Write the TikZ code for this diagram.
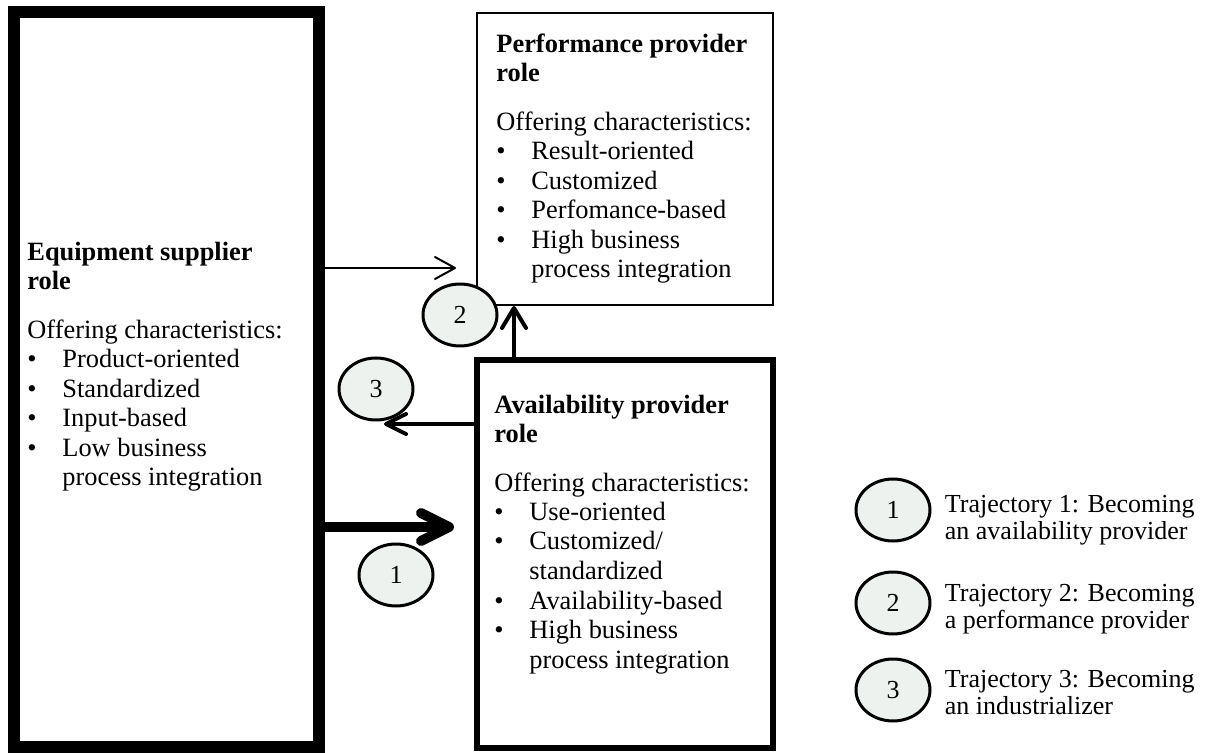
\documentclass[tikz,border=0pt]{standalone}
\usepackage{fontspec}
\setmainfont{Liberation Serif}
\usepackage{xcolor}
\usepackage{tikz}
\usetikzlibrary{shapes.geometric,arrows.meta,positioning,calc}
\definecolor{trajfill}{RGB}{237,242,239}
\newcommand{\bul}{\makebox[17.5pt][l]{\textbullet}}
\newcommand{\cont}{\hspace*{17.5pt}}
\tikzset{
  rolebox/.style={draw, rectangle, inner sep=0pt},
  roletext/.style={align=left, inner sep=0pt, anchor=base west, font=\fontsize{13.2pt}{14.75pt}\selectfont},
  trajmark/.style={ellipse, draw, line width=1.5pt, fill=trajfill, minimum width=37pt, minimum height=31pt, inner sep=0pt, font=\fontsize{13pt}{13.5pt}\selectfont},
  keytext/.style={align=left, inner sep=0pt, anchor=base west, font=\fontsize{13pt}{13.5pt}\selectfont},
}

\begin{document}
\begin{tikzpicture}[x=0.5pt,y=-0.5pt]
    \useasboundingbox (0,0) rectangle (1205,753);
    \node[rolebox, line width=6pt, minimum width=152.5pt, minimum height=367.5pt] (equip) at (166.5,379.5) {};
    \node[rolebox, line width=1pt, minimum width=148pt, minimum height=146pt] (perf) at (625,159) {};
    \node[rolebox, line width=3pt, minimum width=148pt, minimum height=194pt] (avail) at (625,554) {};

    \node[roletext] (equiptext) at ([shift={(19,480)}]equip.north west)
        {\textbf{Equipment supplier}\\\textbf{role}\\[9.5pt]Offering characteristics:\\
         \bul Product-oriented\\\bul Standardized\\\bul Input-based\\\bul Low business\\\cont process integration};
    \node[roletext] (perftext) at ([shift={(20,266)}]perf.north west)
        {\textbf{Performance provider}\\\textbf{role}\\[9.5pt]Offering characteristics:\\
         \bul Result-oriented\\\bul Customized\\\bul Perfomance-based\\\bul High business\\\cont process integration};
    \node[roletext] (availtext) at ([shift={(20,311)}]avail.north west)
        {\textbf{Availability provider}\\\textbf{role}\\[9.5pt]Offering characteristics:\\
         \bul Use-oriented\\\bul Customized/\\\cont standardized\\\bul Availability-based\\\bul High business\\\cont process integration};

    \coordinate (toperf) at ([shift={(-20,-38)}]perf.south west);
    \coordinate (toequip) at ([shift={(-90,67)}]avail.north west);
    \coordinate (toavail) at ([shift={(-20,170)}]avail.north west);
    \coordinate (upfoot) at ([shift={(40,0)}]avail.north west);

    \draw[line width=1pt, -{Straight Barb[length=10pt,width=11pt,round]}] (equip.east |- toperf) -- (toperf);
    \draw[line width=2pt, -{Straight Barb[length=10pt,width=10pt,round]}] (avail.west |- toequip) -- (toequip);
    \draw[line width=5pt, -{Straight Barb[length=14pt,width=14pt,round]}] (equip.east |- toavail) -- (toavail);
    \draw[line width=2pt, -{Straight Barb[length=10pt,width=12pt,round]}] (upfoot) -- (upfoot |- perf.south);

    \node[trajmark] (traj1) at (396,575) {1};
    \node[trajmark] (traj2) at (460,315) {2};
    \node[trajmark] (traj3) at (376,389) {3};

    \node[trajmark] (key1) at (893,510) {1};
    \node[trajmark] (key2) at (893,603) {2};
    \node[trajmark] (key3) at (893,690) {3};
    \node[keytext] (keytext1) at ([shift={(13,29)}]key1.east) {Trajectory 1: Becoming\\an availability provider};
    \node[keytext] (keytext2) at ([shift={(13,25)}]key2.east) {Trajectory 2: Becoming\\a performance provider};
    \node[keytext] (keytext3) at ([shift={(13,24)}]key3.east) {Trajectory 3: Becoming\\an industrializer};
\end{tikzpicture}
\end{document}
